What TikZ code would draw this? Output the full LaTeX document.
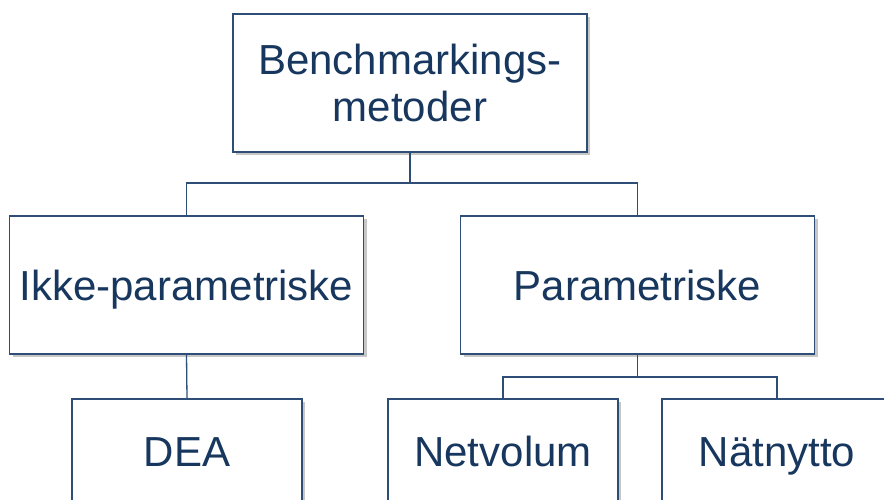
\documentclass[tikz,border=0pt]{standalone}
\usepackage{fontspec}
\setmainfont{Liberation Sans}
\usetikzlibrary{shapes,shadows}

\definecolor{boxline}{HTML}{2E4E78}
\definecolor{boxtext}{HTML}{17375E}

\begin{document}
\begin{tikzpicture}[x=1pt,y=-1pt,line width=1.3pt]
\tikzstyle{bx}=[rectangle,draw=boxline,fill=white,text=boxtext,inner sep=0pt,
  font=\fontsize{42}{47}\selectfont,align=center,
  drop shadow={shadow xshift=3pt,shadow yshift=-3pt,fill=black!22,opacity=1}]
\tikzstyle{one}=[text height=30pt,text depth=0pt]
\tikzstyle{wide}=[minimum width=354pt,minimum height=138pt]
\tikzstyle{leaf}=[minimum width=230pt,minimum height=104pt]
\useasboundingbox (0,0) rectangle (884,499);
\clip (0,0) rectangle (884,499);
\node[bx,wide]     (B) at (410,83)    {Benchmarkings-\\metoder};
\node[bx,wide,one] (I) at (186.5,285) {Ikke-parametriske};
\node[bx,wide,one] (P) at (637.5,285) {Parametriske};
\node[bx,leaf,one] (D) at (187,451)   {DEA};
\node[bx,leaf,one] (N) at (503,451)   {Netvolum};
\node[bx,leaf,one] (T) at (777,451)   {Nätnytto};
\coordinate (jB) at (410,183);
\coordinate (jP) at (637.5,377);
\draw[boxline] (B.south) -- (jB);
\draw[boxline] (I.north) |- (jB) -| (P.north);
\draw[boxline] (I.south) -- (D.north);
\draw[boxline] (P.south) -- (jP);
\draw[boxline] (N.north) |- (jP) -| (T.north);
\end{tikzpicture}
\end{document}
